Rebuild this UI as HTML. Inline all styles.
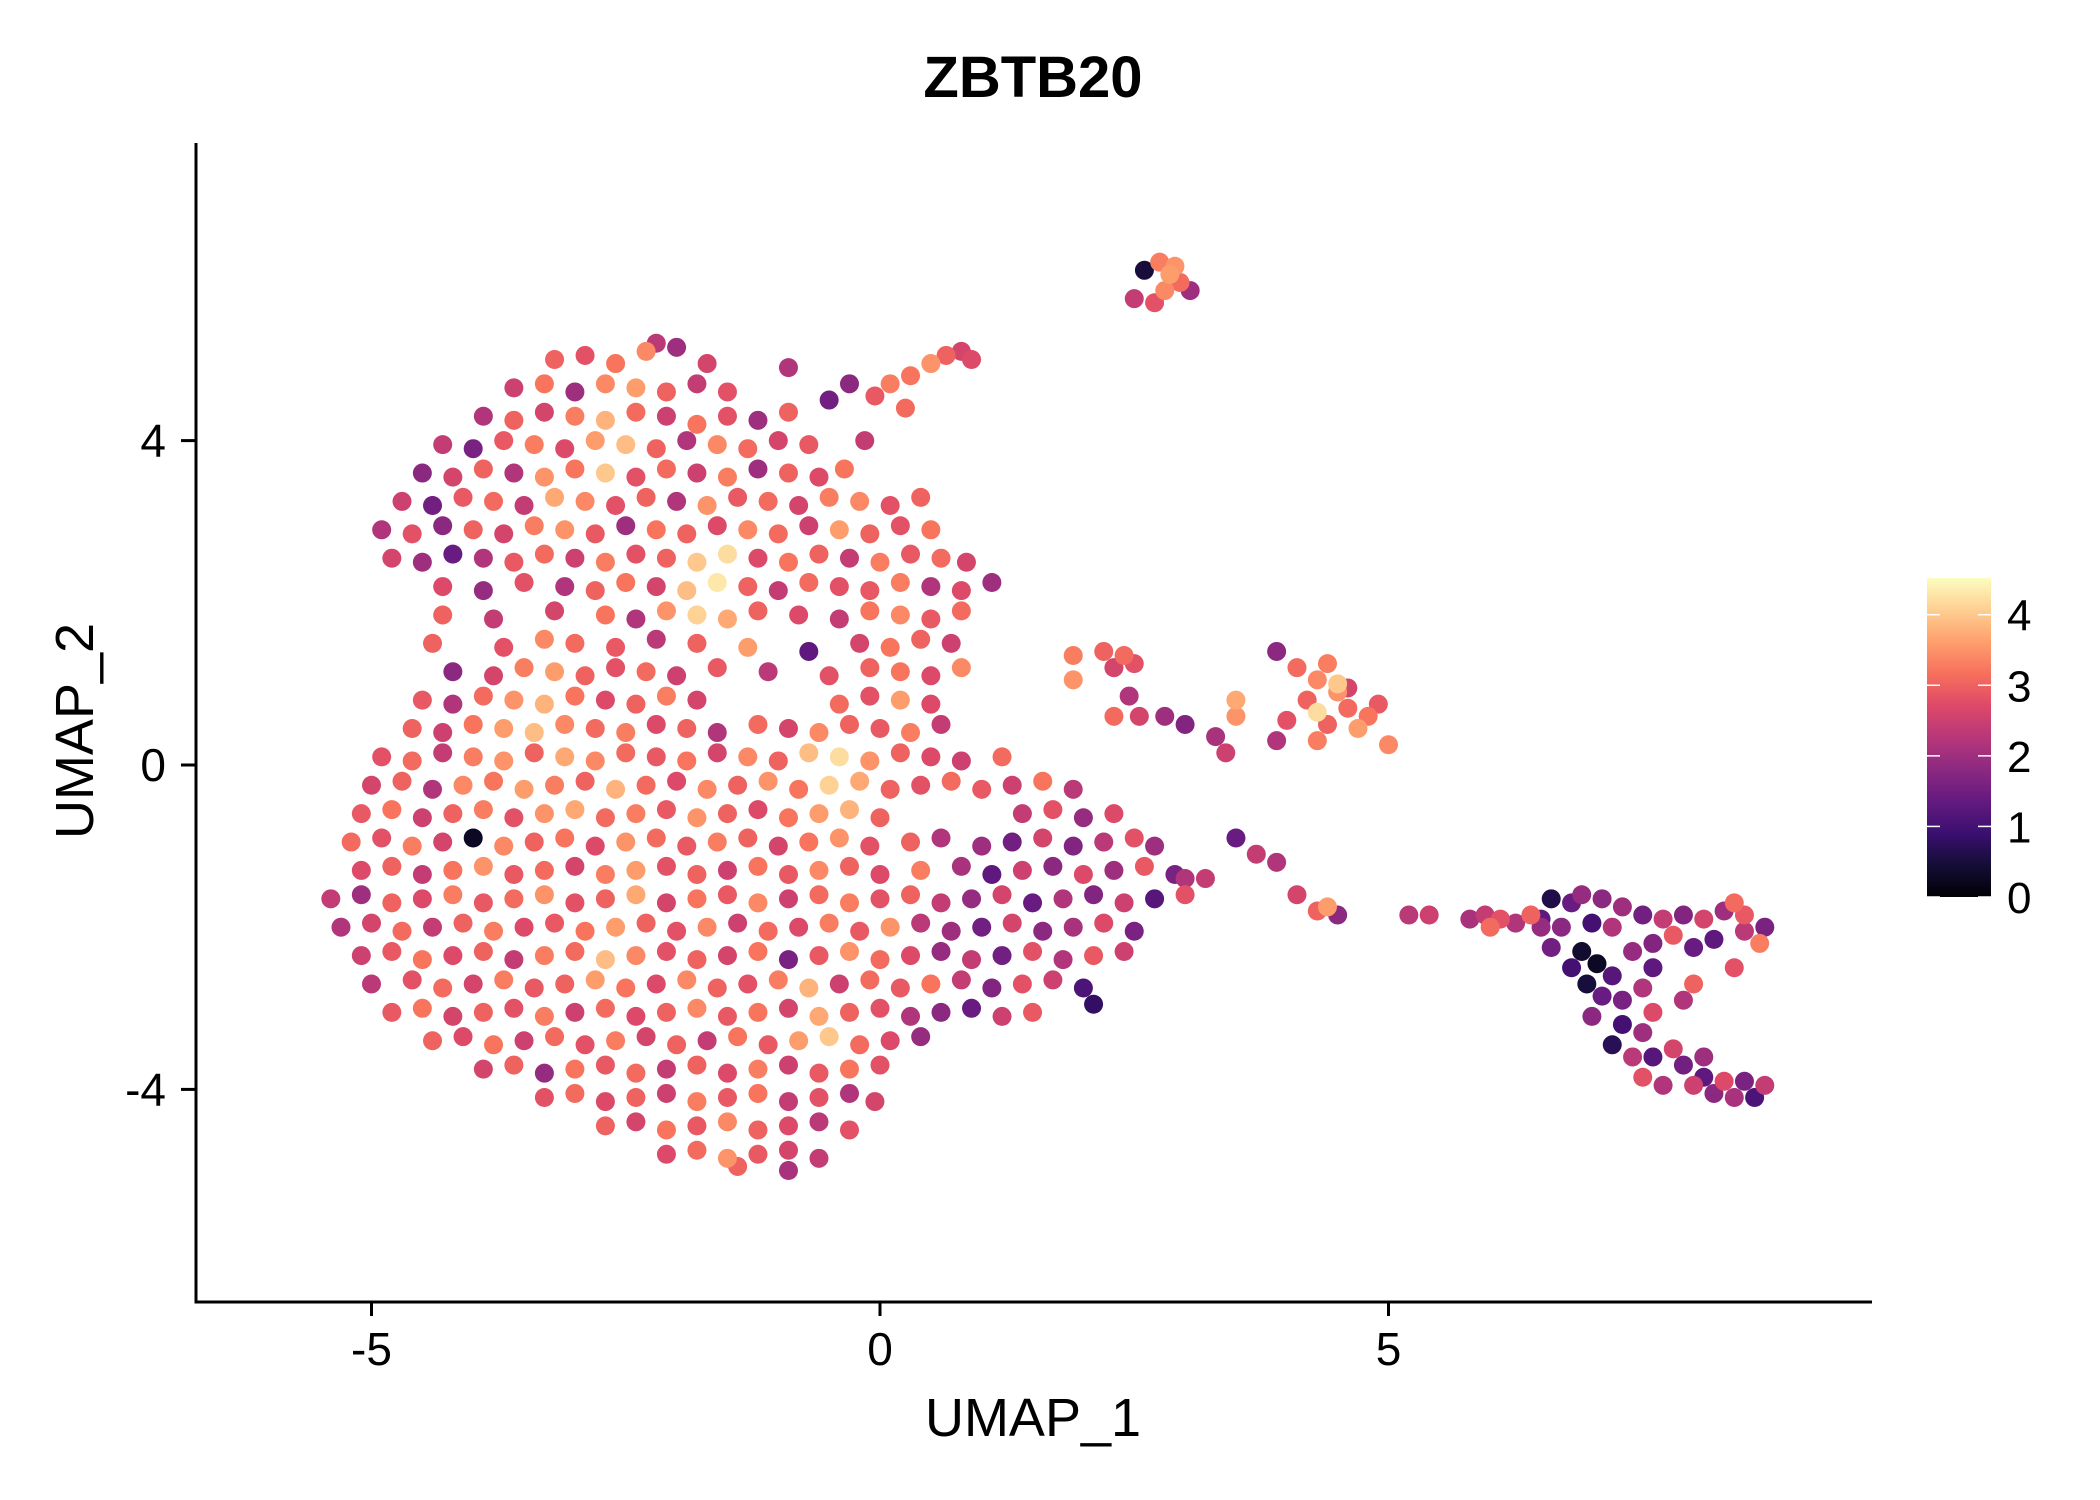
<!DOCTYPE html>
<html><head><meta charset="utf-8"><style>
html,body{margin:0;padding:0;background:#fff;}
svg{display:block;font-family:"Liberation Sans",Arial,sans-serif;}
</style></head><body>
<svg id="chart" width="2100" height="1500" viewBox="0 0 2100 1500" xmlns="http://www.w3.org/2000/svg">
<defs>
<linearGradient id="magma" x1="0" y1="1" x2="0" y2="0">
<stop offset="0" stop-color="#000004"/><stop offset="0.1" stop-color="#140e36"/><stop offset="0.2" stop-color="#3b0f70"/><stop offset="0.3" stop-color="#641a80"/><stop offset="0.4" stop-color="#8c2981"/><stop offset="0.5" stop-color="#b73779"/><stop offset="0.6" stop-color="#de4968"/><stop offset="0.7" stop-color="#f7705c"/><stop offset="0.8" stop-color="#fe9f6d"/><stop offset="0.9" stop-color="#fecf92"/><stop offset="1" stop-color="#fcfdbf"/>
</linearGradient>
</defs>
<text x="1033" y="97" font-size="58" font-weight="bold" text-anchor="middle">ZBTB20</text>
<g id="points"></g>
<line x1="196" y1="143" x2="196" y2="1303" stroke="#000" stroke-width="3"/>
<line x1="194.5" y1="1302" x2="1872" y2="1302" stroke="#000" stroke-width="3"/>
<g id="xticks"></g>
<g id="yticks"></g>
<text x="1033" y="1436" font-size="54" text-anchor="middle">UMAP_1</text>
<text x="0" y="0" font-size="54" text-anchor="middle" transform="translate(93,731) rotate(-90)">UMAP_2</text>
<g>
<rect x="1927" y="578" width="64" height="319" fill="url(#magma)"/>
<g id="legendticks"></g>
</g>
</svg>
<script>
const xTicks = [-5, 0, 5];
const yTicks = [-4, 0, 4];
const legendTicks = [0, 1, 2, 3, 4];
const exprMax = 4.52;
const cells = [
[-3.2,5.0,3],[-2.9,5.05,2.8],[-2.6,4.95,3.2],[-2.3,5.1,3.4],[-2.0,5.15,2],[-1.7,4.95,2.6],[-2.2,5.2,2.3],
[-3.6,4.65,2.5],[-3.3,4.7,3.2],[-3.0,4.6,2.0],[-2.7,4.7,3.4],[-2.4,4.65,3.6],[-2.1,4.6,3.0],[-1.8,4.7,2.4],[-1.5,4.6,2.8],
[0.3,4.8,3.2],[0.5,4.95,3.5],[0.65,5.05,3.0],[0.8,5.1,2.6],[0.9,5.0,2.7],[0.1,4.7,3.3],[-0.05,4.55,2.9],[0.25,4.4,3.1],
[-3.9,4.3,2.2],[-3.6,4.25,3.0],[-3.3,4.35,2.6],[-3.0,4.3,3.3],[-2.7,4.25,3.8],[-2.4,4.35,3.1],[-2.1,4.3,2.5],[-1.8,4.2,3.2],[-1.5,4.3,2.8],[-1.2,4.25,2.0],[-0.9,4.35,3.0],
[-0.9,4.9,2.2],[-0.3,4.7,1.8],[-0.15,4.0,2.4],[-0.5,4.5,1.5],
[-4.3,3.95,2.4],[-4.0,3.9,1.6],[-3.7,4.0,2.9],[-3.4,3.95,3.3],[-3.1,3.9,2.7],[-2.8,4.0,3.6],[-2.5,3.95,3.9],[-2.2,3.9,3.0],[-1.9,4.0,2.2],[-1.6,3.95,3.4],[-1.3,3.9,3.1],[-1.0,4.0,2.6],[-0.7,3.95,2.9],
[-4.5,3.6,1.8],[-4.2,3.55,2.6],[-3.9,3.65,3.0],[-3.6,3.6,2.2],[-3.3,3.55,3.5],[-3.0,3.65,3.2],[-2.7,3.6,4.0],[-2.4,3.55,2.8],[-2.1,3.65,3.1],[-1.8,3.6,2.5],[-1.5,3.55,3.3],[-1.2,3.65,2.0],[-0.9,3.6,3.0],[-0.6,3.55,2.7],[-0.35,3.65,3.2],
[-4.7,3.25,2.5],[-4.4,3.2,1.5],[-4.1,3.3,2.9],[-3.8,3.25,3.1],[-3.5,3.2,2.4],[-3.2,3.3,3.7],[-2.9,3.25,3.4],[-2.6,3.2,2.8],[-2.3,3.3,3.0],[-2.0,3.25,2.2],[-1.7,3.2,3.5],[-1.4,3.3,2.9],[-1.1,3.25,3.1],[-0.8,3.2,2.6],[-0.5,3.3,3.3],[-0.2,3.25,3.4],[0.1,3.2,2.8],[0.4,3.3,3.0],
[-4.9,2.9,2.2],[-4.6,2.85,2.8],[-4.3,2.95,1.8],[-4.0,2.9,3.0],[-3.7,2.85,2.6],[-3.4,2.95,3.3],[-3.1,2.9,3.5],[-2.8,2.85,2.9],[-2.5,2.95,2.0],[-2.2,2.9,3.2],[-1.9,2.85,3.0],[-1.6,2.95,2.7],[-1.3,2.9,3.4],[-1.0,2.85,3.1],[-0.7,2.95,2.5],[-0.4,2.9,3.6],[-0.1,2.85,3.0],[0.2,2.95,2.8],[0.5,2.9,3.2],
[-4.8,2.55,2.6],[-4.5,2.5,2.0],[-4.2,2.6,1.4],[-3.9,2.55,2.2],[-3.6,2.5,2.9],[-3.3,2.6,3.1],[-3.0,2.55,2.5],[-2.7,2.5,3.3],[-2.4,2.6,2.8],[-2.1,2.55,3.0],[-1.8,2.5,4.0],[-1.5,2.6,4.2],[-1.2,2.55,2.7],[-0.9,2.5,3.2],[-0.6,2.6,3.0],[-0.3,2.55,2.4],[0.0,2.5,3.3],[0.3,2.6,2.9],[0.6,2.55,3.1],[0.85,2.5,2.6],
[-4.3,2.2,2.7],[-3.9,2.15,1.9],[-3.5,2.25,2.8],[-3.1,2.2,2.2],[-2.8,2.15,3.0],[-2.5,2.25,3.2],[-2.2,2.2,2.6],[-1.9,2.15,3.9],[-1.6,2.25,4.3],[-1.3,2.2,3.0],[-1.0,2.15,2.4],[-0.7,2.25,3.1],[-0.4,2.2,2.8],[-0.1,2.15,2.9],[0.2,2.25,3.3],[0.5,2.2,2.2],[0.8,2.15,2.7],[1.1,2.25,2.0],
[-4.3,1.85,3.0],[-3.8,1.8,2.4],[-3.2,1.9,2.6],[-2.7,1.85,3.2],[-2.4,1.8,2.2],[-2.1,1.9,3.5],[-1.8,1.85,4.1],[-1.5,1.8,3.7],[-1.2,1.9,3.0],[-0.8,1.85,2.7],[-0.4,1.8,2.4],[-0.1,1.9,3.2],[0.2,1.85,3.4],[0.5,1.8,2.9],[0.8,1.9,3.1],
[-4.4,1.5,3.0],[-3.7,1.45,2.8],[-3.3,1.55,3.4],[-3.0,1.5,3.1],[-2.6,1.45,2.9],[-2.2,1.55,2.3],[-1.8,1.5,3.0],[-1.3,1.45,3.6],[-0.7,1.4,1.3],[-0.2,1.5,2.6],[0.1,1.45,3.2],[0.4,1.55,3.0],[0.7,1.5,2.5],
[-4.2,1.15,1.8],[-3.8,1.1,2.6],[-3.5,1.2,3.3],[-3.2,1.15,3.6],[-2.9,1.1,3.0],[-2.6,1.2,2.8],[-2.3,1.15,3.1],[-2.0,1.1,2.5],[-1.6,1.2,2.9],[-1.1,1.15,2.3],[-0.5,1.1,2.8],[-0.1,1.2,3.0],[0.2,1.15,3.2],[0.5,1.1,2.7],[0.8,1.2,3.4],
[-4.5,0.8,2.9],[-4.2,0.75,2.2],[-3.9,0.85,3.1],[-3.6,0.8,3.5],[-3.3,0.75,3.8],[-3.0,0.85,3.2],[-2.7,0.8,2.7],[-2.4,0.75,3.0],[-2.1,0.85,3.3],[-1.8,0.8,2.6],[-0.4,0.75,3.1],[-0.1,0.85,2.8],[0.2,0.8,3.6],[0.5,0.75,2.7],
[-4.6,0.45,3.0],[-4.3,0.4,2.5],[-4.0,0.5,3.2],[-3.7,0.45,3.6],[-3.4,0.4,3.9],[-3.1,0.5,3.4],[-2.8,0.45,3.1],[-2.5,0.4,3.3],[-2.2,0.5,2.7],[-1.9,0.45,3.0],[-1.6,0.4,2.2],[-1.2,0.5,3.1],[-0.9,0.45,2.6],[-0.6,0.4,3.4],[-0.3,0.5,3.0],[0.0,0.45,2.9],[0.3,0.4,3.3],[0.6,0.5,2.4],
[-4.9,0.1,2.8],[-4.6,0.05,3.1],[-4.3,0.15,2.4],[-4.0,0.1,3.3],[-3.7,0.05,3.5],[-3.4,0.15,3.0],[-3.1,0.1,3.7],[-2.8,0.05,3.4],[-2.5,0.15,3.1],[-2.2,0.1,2.9],[-1.9,0.05,3.2],[-1.6,0.15,2.6],[-1.3,0.1,3.4],[-1.0,0.05,3.0],[-0.7,0.15,3.9],[-0.4,0.1,4.2],[-0.1,0.05,3.5],[0.2,0.15,3.0],[0.5,0.1,2.7],[0.8,0.05,2.5],[1.2,0.1,3.1],
[-5.0,-0.25,2.6],[-4.7,-0.2,3.0],[-4.4,-0.3,2.2],[-4.1,-0.25,3.4],[-3.8,-0.2,3.2],[-3.5,-0.3,3.6],[-3.2,-0.25,3.3],[-2.9,-0.2,3.0],[-2.6,-0.3,3.8],[-2.3,-0.25,3.1],[-2.0,-0.2,2.7],[-1.7,-0.3,3.4],[-1.4,-0.25,3.0],[-1.1,-0.2,3.5],[-0.8,-0.3,3.2],[-0.5,-0.25,4.1],[-0.2,-0.2,3.7],[0.1,-0.3,3.0],[0.4,-0.25,2.8],[0.7,-0.2,3.1],[1.0,-0.3,2.9],[1.3,-0.25,2.5],[1.6,-0.2,3.2],[1.9,-0.3,2.3],
[-5.1,-0.6,2.9],[-4.8,-0.55,3.2],[-4.5,-0.65,2.5],[-4.2,-0.6,3.0],[-3.9,-0.55,3.3],[-3.6,-0.65,2.8],[-3.3,-0.6,3.5],[-3.0,-0.55,3.7],[-2.7,-0.65,3.1],[-2.4,-0.6,3.3],[-2.1,-0.55,2.9],[-1.8,-0.65,3.5],[-1.5,-0.6,3.0],[-1.2,-0.55,2.7],[-0.9,-0.65,3.2],[-0.6,-0.6,3.6],[-0.3,-0.55,3.8],[0.0,-0.65,3.0],[1.4,-0.6,2.4],[1.7,-0.55,2.8],[2.0,-0.65,1.9],[2.3,-0.6,2.7],
[-5.2,-0.95,3.1],[-4.9,-0.9,2.8],[-4.6,-1.0,3.3],[-4.3,-0.95,2.6],[-4.0,-0.9,0.3],[-3.7,-1.0,3.4],[-3.4,-0.95,3.0],[-3.1,-0.9,3.2],[-2.8,-1.0,2.7],[-2.5,-0.95,3.5],[-2.2,-0.9,3.1],[-1.9,-1.0,2.9],[-1.6,-0.95,3.3],[-1.3,-0.9,3.0],[-1.0,-1.0,2.6],[-0.7,-0.95,3.2],[-0.4,-0.9,3.5],[-0.1,-1.0,2.8],[0.3,-0.95,3.0],[0.6,-0.9,2.2],[1.0,-1.0,2.0],[1.3,-0.95,1.5],[1.6,-0.9,2.6],[1.9,-1.0,1.7],[2.2,-0.95,2.3],[2.5,-0.9,2.8],[2.7,-1.0,2.0],
[-5.1,-1.3,2.7],[-4.8,-1.25,3.0],[-4.5,-1.35,2.4],[-4.2,-1.3,3.2],[-3.9,-1.25,3.5],[-3.6,-1.35,2.9],[-3.3,-1.3,3.1],[-3.0,-1.25,2.6],[-2.7,-1.35,3.3],[-2.4,-1.3,3.6],[-2.1,-1.25,2.8],[-1.8,-1.35,3.0],[-1.5,-1.3,2.5],[-1.2,-1.25,3.2],[-0.9,-1.35,2.9],[-0.6,-1.3,3.4],[-0.3,-1.25,3.0],[0.0,-1.35,2.7],[0.4,-1.3,3.3],[0.8,-1.25,2.1],[1.1,-1.35,1.3],[1.4,-1.3,2.5],[1.7,-1.25,1.8],[2.0,-1.35,2.7],[2.3,-1.3,2.0],[2.6,-1.25,2.9],[2.9,-1.35,1.6],
[-5.4,-1.65,2.4],[-5.1,-1.6,2.0],[-4.8,-1.7,3.0],[-4.5,-1.65,2.7],[-4.2,-1.6,3.3],[-3.9,-1.7,2.9],[-3.6,-1.65,3.1],[-3.3,-1.6,3.5],[-3.0,-1.7,2.8],[-2.7,-1.65,3.0],[-2.4,-1.6,3.7],[-2.1,-1.7,2.6],[-1.8,-1.65,3.2],[-1.5,-1.6,2.9],[-1.2,-1.7,3.4],[-0.9,-1.65,2.5],[-0.6,-1.6,3.1],[-0.3,-1.7,3.3],[0.0,-1.65,2.8],[0.3,-1.6,3.0],[0.6,-1.7,2.4],[0.9,-1.65,1.9],[1.2,-1.6,2.6],[1.5,-1.7,1.4],[1.8,-1.65,2.2],[2.1,-1.6,1.7],[2.4,-1.7,2.5],[2.7,-1.65,1.2],[3.0,-1.6,2.8],
[-5.3,-2.0,2.2],[-5.0,-1.95,2.6],[-4.7,-2.05,3.1],[-4.4,-2.0,2.4],[-4.1,-1.95,3.0],[-3.8,-2.05,3.3],[-3.5,-2.0,2.7],[-3.2,-1.95,2.9],[-2.9,-2.05,3.2],[-2.6,-2.0,3.6],[-2.3,-1.95,3.0],[-2.0,-2.05,2.8],[-1.7,-2.0,3.4],[-1.4,-1.95,2.5],[-1.1,-2.05,3.1],[-0.8,-2.0,2.7],[-0.5,-1.95,3.3],[-0.2,-2.05,2.9],[0.1,-2.0,3.5],[0.4,-1.95,2.3],[0.7,-2.05,2.0],[1.0,-2.0,1.5],[1.3,-1.95,2.6],[1.6,-2.05,1.8],[1.9,-2.0,2.1],[2.2,-1.95,2.7],[2.5,-2.05,1.6],
[-5.1,-2.35,2.5],[-4.8,-2.3,2.9],[-4.5,-2.4,3.2],[-4.2,-2.35,2.7],[-3.9,-2.3,3.0],[-3.6,-2.4,2.4],[-3.3,-2.35,3.3],[-3.0,-2.3,3.1],[-2.7,-2.4,3.9],[-2.4,-2.35,3.4],[-2.1,-2.3,2.8],[-1.8,-2.4,3.0],[-1.5,-2.35,2.6],[-1.2,-2.3,3.2],[-0.9,-2.4,1.6],[-0.6,-2.35,2.9],[-0.3,-2.3,3.5],[0.0,-2.4,3.1],[0.3,-2.35,2.7],[0.6,-2.3,1.9],[0.9,-2.4,2.4],[1.2,-2.35,1.5],[1.5,-2.3,2.8],[1.8,-2.4,2.2],[2.1,-2.35,2.9],[2.4,-2.3,2.5],
[-5.0,-2.7,2.3],[-4.6,-2.65,2.8],[-4.3,-2.75,3.1],[-4.0,-2.7,2.6],[-3.7,-2.65,3.3],[-3.4,-2.75,2.9],[-3.1,-2.7,3.0],[-2.8,-2.65,3.6],[-2.5,-2.75,3.2],[-2.2,-2.7,2.7],[-1.9,-2.65,3.4],[-1.6,-2.75,3.0],[-1.3,-2.7,2.8],[-1.0,-2.65,3.3],[-0.7,-2.75,3.8],[-0.4,-2.7,2.5],[-0.1,-2.65,3.1],[0.2,-2.75,2.9],[0.5,-2.7,3.2],[0.8,-2.65,2.4],[1.1,-2.75,1.7],[1.4,-2.7,2.8],[1.7,-2.65,2.5],[2.0,-2.75,1.1],
[-4.8,-3.05,2.9],[-4.5,-3.0,3.2],[-4.2,-3.1,2.6],[-3.9,-3.05,3.0],[-3.6,-3.0,2.8],[-3.3,-3.1,3.3],[-3.0,-3.05,2.5],[-2.7,-3.0,3.1],[-2.4,-3.1,2.7],[-2.1,-3.05,3.0],[-1.8,-3.0,3.4],[-1.5,-3.1,2.9],[-1.2,-3.05,3.2],[-0.9,-3.0,2.6],[-0.6,-3.1,3.7],[-0.3,-3.05,3.0],[0.0,-3.0,2.8],[0.3,-3.1,2.2],[0.6,-3.05,1.8],[0.9,-3.0,1.4],[1.2,-3.1,2.5],[1.5,-3.05,2.9],
[-4.4,-3.4,3.0],[-4.1,-3.35,2.7],[-3.8,-3.45,3.2],[-3.5,-3.4,2.5],[-3.2,-3.35,3.1],[-2.9,-3.45,2.8],[-2.6,-3.4,3.3],[-2.3,-3.35,2.6],[-2.0,-3.45,3.0],[-1.7,-3.4,2.4],[-1.4,-3.35,3.2],[-1.1,-3.45,2.9],[-0.8,-3.4,3.6],[-0.5,-3.35,4.0],[-0.2,-3.45,3.1],[0.1,-3.4,2.7],[0.4,-3.35,1.9],
[-3.9,-3.75,2.6],[-3.6,-3.7,3.0],[-3.3,-3.8,1.9],[-3.0,-3.75,3.2],[-2.7,-3.7,2.9],[-2.4,-3.8,3.1],[-2.1,-3.75,2.4],[-1.8,-3.7,3.0],[-1.5,-3.8,2.7],[-1.2,-3.75,3.3],[-0.9,-3.7,2.5],[-0.6,-3.8,2.9],[-0.3,-3.75,3.2],[0.0,-3.7,2.8],
[-3.3,-4.1,2.8],[-3.0,-4.05,3.1],[-2.7,-4.15,2.7],[-2.4,-4.1,3.0],[-2.1,-4.05,2.5],[-1.8,-4.15,3.3],[-1.5,-4.1,2.9],[-1.2,-4.05,3.2],[-0.9,-4.15,2.4],[-0.6,-4.1,2.8],[-0.3,-4.05,2.2],[-0.05,-4.15,2.6],
[-2.7,-4.45,3.0],[-2.4,-4.4,2.6],[-2.1,-4.5,3.2],[-1.8,-4.45,2.9],[-1.5,-4.4,3.4],[-1.2,-4.5,3.0],[-0.9,-4.45,2.7],[-0.6,-4.4,2.3],[-0.3,-4.5,2.8],
[-2.1,-4.8,2.7],[-1.8,-4.75,3.1],[-1.5,-4.85,3.5],[-1.2,-4.8,2.9],[-0.9,-4.75,2.6],[-0.6,-4.85,2.4],[-0.9,-5.0,2.1],[-1.4,-4.95,3.0],
[2.6,6.1,0.5],[2.75,6.2,3.3],[2.85,6.05,3.6],[2.95,5.95,3.1],[2.8,5.85,3.4],[3.05,5.85,2.0],[2.5,5.75,2.4],[2.7,5.7,2.8],[2.9,6.15,3.5],
[1.9,1.35,3.3],[2.2,1.4,3.0],[2.4,1.35,3.1],[2.5,1.25,2.8],[2.3,1.2,2.6],[1.9,1.05,3.5],[2.45,0.85,2.2],[2.55,0.6,2.6],[2.3,0.6,3.1],[2.8,0.6,2.0],[3.0,0.5,1.7],[3.3,0.35,2.1],[3.4,0.15,2.5],[3.5,0.6,3.5],[3.5,0.8,3.7],
[3.9,1.4,1.8],[4.1,1.2,3.1],[4.3,1.05,3.4],[4.4,1.25,3.3],[4.2,0.8,3.0],[4.5,0.9,3.5],[4.6,0.7,3.1],[4.8,0.6,3.2],[4.4,0.5,3.0],[4.0,0.55,2.8],[4.3,0.3,3.3],[4.9,0.75,2.9],[4.7,0.45,3.6],[3.9,0.3,2.2],[4.5,1.0,4.0],[4.3,0.65,4.2],[5.0,0.25,3.4],[4.6,0.95,2.6],
[3.5,-0.9,1.4],[3.7,-1.1,2.4],[3.9,-1.2,2.2],[4.1,-1.6,2.6],[4.3,-1.8,3.0],[4.5,-1.85,1.8],[4.4,-1.75,3.6],[3.0,-1.4,2.2],[3.2,-1.4,2.4],[2.1,-2.95,0.8],
[5.2,-1.85,2.3],[5.4,-1.85,2.5],[5.8,-1.9,2.1],[5.95,-1.85,2.4],[6.1,-1.9,2.8],[6.25,-1.95,2.2],[6.4,-1.85,3.0],[6.5,-2.0,1.9],[6.0,-2.0,3.1],
[6.6,-1.65,0.6],[6.8,-1.7,1.4],[7.1,-1.65,1.8],[7.3,-1.75,2.0],[6.9,-1.6,1.9],[6.5,-1.9,1.3],[6.7,-2.0,1.8],[7.0,-1.95,1.0],[7.2,-2.0,2.2],[7.5,-1.85,1.5],[7.7,-1.9,2.4],[7.9,-1.85,1.7],[8.1,-1.9,2.6],[8.3,-1.8,2.0],[8.5,-1.85,2.9],[8.7,-2.0,1.6],[8.5,-2.05,2.3],[8.2,-2.15,1.3],[8.4,-1.7,3.1],[7.6,-2.2,1.7],[7.8,-2.1,2.9],[8.0,-2.25,1.4],[7.4,-2.3,1.9],[6.9,-2.3,0.4],[7.05,-2.45,0.3],[6.8,-2.5,1.0],[7.2,-2.6,1.2],[6.95,-2.7,0.5],[7.1,-2.85,1.4],[7.3,-2.9,1.6],[7.5,-2.75,2.2],[7.6,-2.5,1.3],[7.0,-3.1,1.8],[7.3,-3.2,1.0],[7.5,-3.3,2.0],[7.6,-3.05,2.7],[7.2,-3.45,0.7],[7.4,-3.6,2.3],[7.6,-3.6,1.2],[7.8,-3.5,2.6],[7.5,-3.85,2.8],[7.7,-3.95,2.2],[7.9,-3.7,1.5],[8.0,-3.95,2.5],[8.2,-4.05,1.8],[8.1,-3.85,1.3],[8.4,-4.1,2.1],[8.5,-3.9,1.6],[8.7,-3.95,2.4],[8.6,-4.1,1.1],[8.3,-3.9,2.7],[8.1,-3.6,2.0],[8.0,-2.7,3.0],[7.9,-2.9,2.2],[8.4,-2.5,2.8],[8.65,-2.2,3.3],[6.6,-2.25,1.5]
];
const NS = "http://www.w3.org/2000/svg";
const xScale = v => 880 + v * 101.7;
const yScale = v => 765 - v * 81.1;
const magmaStops = ["#000004","#140e36","#3b0f70","#641a80","#8c2981","#b73779","#de4968","#f7705c","#fe9f6d","#fecf92","#fcfdbf"];
function hex(c){return [parseInt(c.slice(1,3),16),parseInt(c.slice(3,5),16),parseInt(c.slice(5,7),16)];}
function colorFor(v){
  let t = Math.max(0, Math.min(1, v / exprMax)) * 10;
  let i = Math.min(9, Math.floor(t)), f = t - i;
  const a = hex(magmaStops[i]), b = hex(magmaStops[i+1]);
  return "rgb(" + a.map((x,k)=>Math.round(x + (b[k]-x)*f)).join(",") + ")";
}
const gp = document.getElementById("points");
const order = cells.slice().sort((a,b)=>a[2]-b[2]);
order.forEach(c => {
  const el = document.createElementNS(NS, "circle");
  el.setAttribute("cx", xScale(c[0]));
  el.setAttribute("cy", yScale(c[1]));
  el.setAttribute("r", 9.5);
  el.setAttribute("fill", colorFor(c[2]));
  
  
  gp.appendChild(el);
});
const gx = document.getElementById("xticks");
xTicks.forEach(t => {
  const x = xScale(t);
  const ln = document.createElementNS(NS, "line");
  ln.setAttribute("x1", x); ln.setAttribute("x2", x);
  ln.setAttribute("y1", 1303); ln.setAttribute("y2", 1316);
  ln.setAttribute("stroke", "#000"); ln.setAttribute("stroke-width", 3);
  
  
  gx.appendChild(ln);
  const tx = document.createElementNS(NS, "text");
  tx.setAttribute("x", x); tx.setAttribute("y", 1365);
  tx.setAttribute("font-size", 46); tx.setAttribute("text-anchor", "middle");
  tx.textContent = String(t);
  
  
  gx.appendChild(tx);
});
const gy = document.getElementById("yticks");
yTicks.forEach(t => {
  const y = yScale(t);
  const ln = document.createElementNS(NS, "line");
  ln.setAttribute("x1", 181); ln.setAttribute("x2", 196);
  ln.setAttribute("y1", y); ln.setAttribute("y2", y);
  ln.setAttribute("stroke", "#000"); ln.setAttribute("stroke-width", 3);
  
  
  gy.appendChild(ln);
  const tx = document.createElementNS(NS, "text");
  tx.setAttribute("x", 166); tx.setAttribute("y", y + 16);
  tx.setAttribute("font-size", 46); tx.setAttribute("text-anchor", "end");
  tx.textContent = String(t);
  
  
  gy.appendChild(tx);
});
const gl = document.getElementById("legendticks");
const legY = v => 897 - v / exprMax * 319;
legendTicks.forEach(t => {
  const y = legY(t);
  [[1927,1940],[1978,1991]].forEach(p => {
    const ln = document.createElementNS(NS, "line");
    ln.setAttribute("x1", p[0]); ln.setAttribute("x2", p[1]);
    ln.setAttribute("y1", y); ln.setAttribute("y2", y);
    ln.setAttribute("stroke", "#fff"); ln.setAttribute("stroke-width", 1.5);
    
    
    gl.appendChild(ln);
  });
  const tx = document.createElementNS(NS, "text");
  tx.setAttribute("x", 2007); tx.setAttribute("y", y + 16);
  tx.setAttribute("font-size", 44);
  tx.textContent = String(t);
  
  
  gl.appendChild(tx);
});
</script>
</body></html>
